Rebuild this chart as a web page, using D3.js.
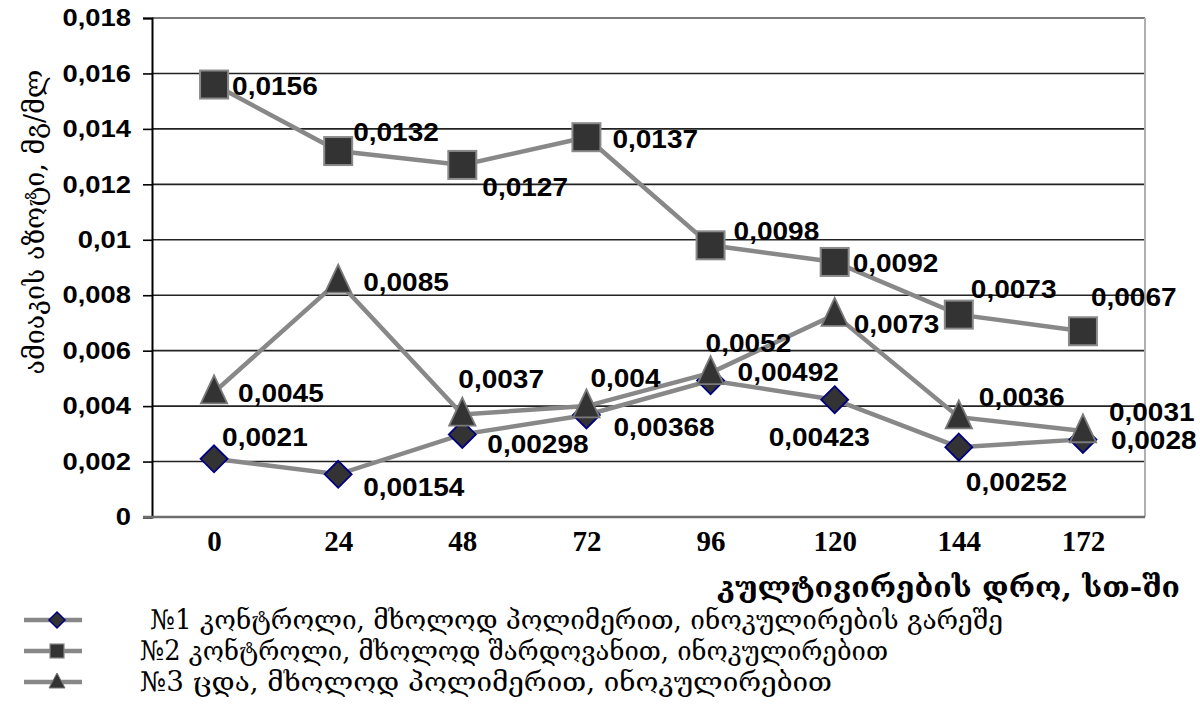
<!DOCTYPE html>
<html><head><meta charset="utf-8">
<script src="https://cdn.jsdelivr.net/npm/d3@7"></script>
<style>
html,body{margin:0;padding:0;background:#fff;}
svg{display:block;}
</style>
</head><body>
<svg id="chart" width="1200" height="725"></svg>
<script>
const categories = ["0","24","48","72","96","120","144","172"];
const series1 = [0.0021,0.00154,0.00298,0.00368,0.00492,0.00423,0.00252,0.0028];
const series2 = [0.0156,0.0132,0.0127,0.0137,0.0098,0.0092,0.0073,0.0067];
const series3 = [0.0045,0.0085,0.0037,0.004,0.0052,0.0073,0.0036,0.0031];
const labels1 = ["0,0021","0,00154","0,00298","0,00368","0,00492","0,00423","0,00252","0,0028"];
const labels2 = ["0,0156","0,0132","0,0127","0,0137","0,0098","0,0092","0,0073","0,0067"];
const labels3 = ["0,0045","0,0085","0,0037","0,004","0,0052","0,0073","0,0036","0,0031"];
const yTicks = [0,0.002,0.004,0.006,0.008,0.01,0.012,0.014,0.016,0.018];
const yTickLabels = ["0","0,002","0,004","0,006","0,008","0,01","0,012","0,014","0,016","0,018"];
const seriesNames = [
  " №1 კონტროლი, მხოლოდ პოლიმერით, ინოკულირების გარეშე",
  "№2 კონტროლი, მხოლოდ შარდოვანით, ინოკულირებით",
  "№3 ცდა, მხოლოდ პოლიმერით, ინოკულირებით"
];
const yTitle = "ამიაკის აზოტი, მგ/მლ";
const xTitle = "კულტივირების დრო, სთ-ში";

// label offsets (layout only)
const off1 = [[8,-22],[25,13],[25,10],[27,12],[27,-9],[-66,37],[7,35],[28,1]];
const off2 = [[18,1],[15,-19],[20,22],[26,2],[23,-14],[18,1],[12,-26],[8,-34]];
const off3 = [[24,1],[25,1],[-4,-35],[4,-28],[-5,-30],[19,9],[20,-20],[26,-19]];

const svg = d3.select("#chart");
const L = 152, R = 1145, T = 18, B = 517;
const x = d3.scalePoint().domain(categories).range([L, R]).padding(0.5);
const y = d3.scaleLinear().domain([0, 0.018]).range([B, T]);

function stretch(sel, f) {
  sel.each(function() {
    const w = this.getComputedTextLength();
    d3.select(this).attr("textLength", w * f).attr("lengthAdjust", "spacingAndGlyphs");
  });
}

// gridlines
svg.append("g").selectAll("line").data(yTicks.filter(d => d > 0)).join("line")
  .attr("x1", L).attr("x2", R).attr("y1", d => y(d)).attr("y2", d => y(d))
  .attr("stroke", "#222").attr("stroke-width", 1.6);
svg.append("line").attr("x1", L).attr("x2", R).attr("y1", y(0.018)).attr("y2", y(0.018))
  .attr("stroke", "#7a7a7a").attr("stroke-width", 2);
svg.append("line").attr("x1", R).attr("x2", R).attr("y1", T).attr("y2", B)
  .attr("stroke", "#b0b0b0").attr("stroke-width", 2);

// y axis
const yAxis = svg.append("g").attr("transform", `translate(${L},0)`)
  .call(d3.axisLeft(y).tickValues(yTicks).tickSize(9).tickPadding(12)
    .tickFormat((d, i) => yTickLabels[i]));
yAxis.select(".domain").attr("stroke", "#000").attr("stroke-width", 2);
yAxis.selectAll(".tick line").attr("stroke", "#000").attr("stroke-width", 1.6);
yAxis.selectAll(".tick text").attr("font-family", "'Liberation Sans', Arial, sans-serif")
  .attr("font-weight", "bold").attr("font-size", 24).attr("fill", "#000");
stretch(yAxis.selectAll(".tick text"), 1.14);

// x axis
const xAxis = svg.append("g").attr("transform", `translate(0,${B})`)
  .call(d3.axisBottom(x).tickSize(0).tickPadding(13));
xAxis.select(".domain").remove();
svg.append("line").attr("x1", L - 9).attr("x2", R).attr("y1", B).attr("y2", B)
  .attr("stroke", "#6e6e6e").attr("stroke-width", 2.5);
xAxis.selectAll(".tick text").attr("font-family", "'Liberation Serif', 'Times New Roman', serif")
  .attr("font-weight", "bold").attr("font-size", 29).attr("fill", "#000");

const sqSize = 28, diaSize = 27, triSize = 28;
function drawMarker(g, type, cx, cy) {
  if (type === "square") {
    g.append("rect").attr("x", cx - sqSize/2).attr("y", cy - sqSize/2)
      .attr("width", sqSize).attr("height", sqSize)
      .attr("fill", "#333").attr("stroke", "#8a8a8a").attr("stroke-width", 2);
  } else if (type === "diamond") {
    const h = diaSize/2;
    g.append("path").attr("d", `M${cx},${cy-h}L${cx+h},${cy}L${cx},${cy+h}L${cx-h},${cy}Z`)
      .attr("fill", "#333").attr("stroke", "#000080").attr("stroke-width", 1.8);
  } else {
    const h = triSize;
    g.append("path").attr("d", `M${cx},${cy - h*0.6}L${cx + h*0.47},${cy + h*0.4}L${cx - h*0.47},${cy + h*0.4}Z`)
      .attr("fill", "#333").attr("stroke", "#7a7a7a").attr("stroke-width", 1.8);
  }
}

const series = [
  {vals: series1, labs: labels1, off: off1, type: "diamond"},
  {vals: series2, labs: labels2, off: off2, type: "square"},
  {vals: series3, labs: labels3, off: off3, type: "triangle"}
];
const line = d3.line().x((d, i) => x(categories[i])).y(d => y(d));

series.forEach(s => {
  const g = svg.append("g");
  g.append("path").attr("d", line(s.vals)).attr("fill", "none")
    .attr("stroke", "#888").attr("stroke-width", 4.5);
  s.vals.forEach((v, i) => drawMarker(g, s.type, x(categories[i]), y(v)));
});
series.forEach(s => {
  const t = svg.append("g").selectAll("text").data(s.vals).join("text")
    .attr("x", (d, i) => x(categories[i]) + s.off[i][0])
    .attr("y", (d, i) => y(d) + s.off[i][1])
    .attr("dy", "0.36em")
    .attr("font-family", "'Liberation Sans', Arial, sans-serif")
    .attr("font-weight", "bold").attr("font-size", 25).attr("fill", "#000")
    .text((d, i) => s.labs[i]);
  stretch(t, 1.12);
});

// axis titles
svg.append("text")
  .attr("transform", "translate(44,222) rotate(-90)")
  .attr("text-anchor", "middle")
  .attr("font-family", "'DejaVu Serif', serif").attr("font-size", 28).attr("fill", "#000")
  .attr("textLength", 305).attr("lengthAdjust", "spacingAndGlyphs")
  .text(yTitle);
svg.append("text")
  .attr("x", 717).attr("y", 597)
  .attr("font-family", "'DejaVu Serif', serif").attr("font-weight", "bold")
  .attr("font-size", 28).attr("fill", "#000")
  .attr("textLength", 463).attr("lengthAdjust", "spacingAndGlyphs")
  .text(xTitle);

// legend
const legTypes = ["diamond", "square", "triangle"];
const legY = [620, 651, 682];
const legLen = [861, 748, 692];
const legX = [142, 140, 140];
legTypes.forEach((t, i) => {
  const g = svg.append("g");
  g.append("line").attr("x1", 24).attr("x2", 82).attr("y1", legY[i]).attr("y2", legY[i])
    .attr("stroke", "#888").attr("stroke-width", 4.5);
  if (t === "diamond") {
    const h = 8, cx = 57, cy = legY[i];
    g.append("path").attr("d", `M${cx},${cy-h}L${cx+h},${cy}L${cx},${cy+h}L${cx-h},${cy}Z`)
      .attr("fill", "#333").attr("stroke", "#000080").attr("stroke-width", 1.5);
  } else if (t === "square") {
    g.append("rect").attr("x", 50).attr("y", legY[i] - 7).attr("width", 14).attr("height", 14)
      .attr("fill", "#333").attr("stroke", "#888").attr("stroke-width", 1.2);
  } else {
    const cx = 57, cy = legY[i];
    g.append("path").attr("d", `M${cx},${cy-9}L${cx+8},${cy+6}L${cx-8},${cy+6}Z`)
      .attr("fill", "#333").attr("stroke", "#777").attr("stroke-width", 1);
  }
  g.append("text").attr("x", legX[i]).attr("y", legY[i]).attr("dy", "0.35em")
    .attr("font-family", "'DejaVu Serif', serif").attr("font-size", 27).attr("fill", "#000")
    .attr("textLength", legLen[i]).attr("lengthAdjust", "spacingAndGlyphs")
    .attr("xml:space", "preserve")
    .text(seriesNames[i]);
});
</script>
</body></html>
